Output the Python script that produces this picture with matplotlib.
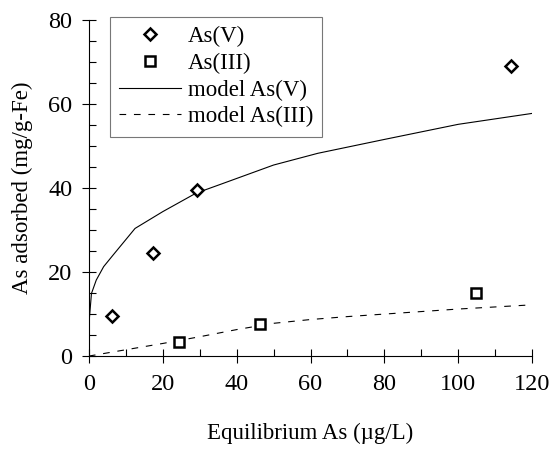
import matplotlib
matplotlib.use('Agg')
from matplotlib import pyplot as plt
from matplotlib.ticker import MultipleLocator

plt.rcParams['font.family'] = ['Liberation Serif', 'DejaVu Serif']

# measured points
as5_x = [6.2, 17.4, 29.2, 114.4]
as5_y = [9.6, 24.6, 39.5, 69.0]
as3_x = [24.5, 46.3, 104.7]
as3_y = [3.3, 7.6, 15.0]

# model curves
model5_x = [0, 0.7, 2, 4, 6.5, 12.5, 20, 29, 35, 50, 62, 80, 100, 120]
model5_y = [7.5, 14.9, 18.1, 21.3, 24.0, 30.4, 34.4, 38.8, 40.7, 45.5, 48.3, 51.6, 55.2, 57.8]
model3_x = [0, 10, 20, 30, 40, 50, 60, 70, 80, 90, 100, 110, 120]
model3_y = [0, 1.5, 3.0, 4.6, 6.3, 7.8, 8.7, 9.4, 10.0, 10.6, 11.2, 11.7, 12.2]

fig = plt.figure(figsize=(5.52, 4.49), dpi=100)
ax = fig.add_axes([0.161, 0.207, 0.803, 0.748])

ax.plot(as5_x, as5_y, linestyle='none', marker='D', markersize=6.5, markerfacecolor='white',
        markeredgecolor='black', markeredgewidth=1.8, label='As(V)', zorder=3)
ax.plot(as3_x, as3_y, linestyle='none', marker='s', markersize=7.5, markerfacecolor='white',
        markeredgecolor='black', markeredgewidth=1.8, label='As(III)', zorder=3)
ax.plot(model5_x, model5_y, linestyle='-', color='black', linewidth=0.8, label='model As(V)')
ax.plot(model3_x, model3_y, linestyle=(0, (6, 7)), color='black', linewidth=0.8, label='model As(III)')

ax.set_xlim(0, 120)
ax.set_ylim(0, 80)
ax.xaxis.set_major_locator(MultipleLocator(20))
ax.xaxis.set_minor_locator(MultipleLocator(10))
ax.yaxis.set_major_locator(MultipleLocator(20))
ax.yaxis.set_minor_locator(MultipleLocator(5))
ax.spines['top'].set_visible(False)
ax.spines['right'].set_visible(False)
ax.spines['left'].set_linewidth(0.8)
ax.spines['bottom'].set_linewidth(0.8)
ax.tick_params(which='major', direction='inout', length=10, width=0.8, labelsize=17.5)
ax.tick_params(which='minor', direction='in', length=5, width=0.8)
ax.tick_params(axis='x', which='major', pad=8)
ax.tick_params(axis='y', which='major', pad=7)

ax.set_xlabel('Equilibrium As (\u00b5g/L)', fontsize=16.5, labelpad=20)
ax.set_ylabel('As adsorbed (mg/g-Fe)', fontsize=16.5, labelpad=11)

leg = ax.legend(loc='upper left', bbox_to_anchor=(0.047, 1.009), fontsize=16.5, frameon=True,
                fancybox=False, edgecolor='#555555', handlelength=2.7, handletextpad=0.3,
                borderpad=0.4, labelspacing=0.24, borderaxespad=0)
leg.get_frame().set_linewidth(0.8)

fig.savefig('out.png', dpi=100)
